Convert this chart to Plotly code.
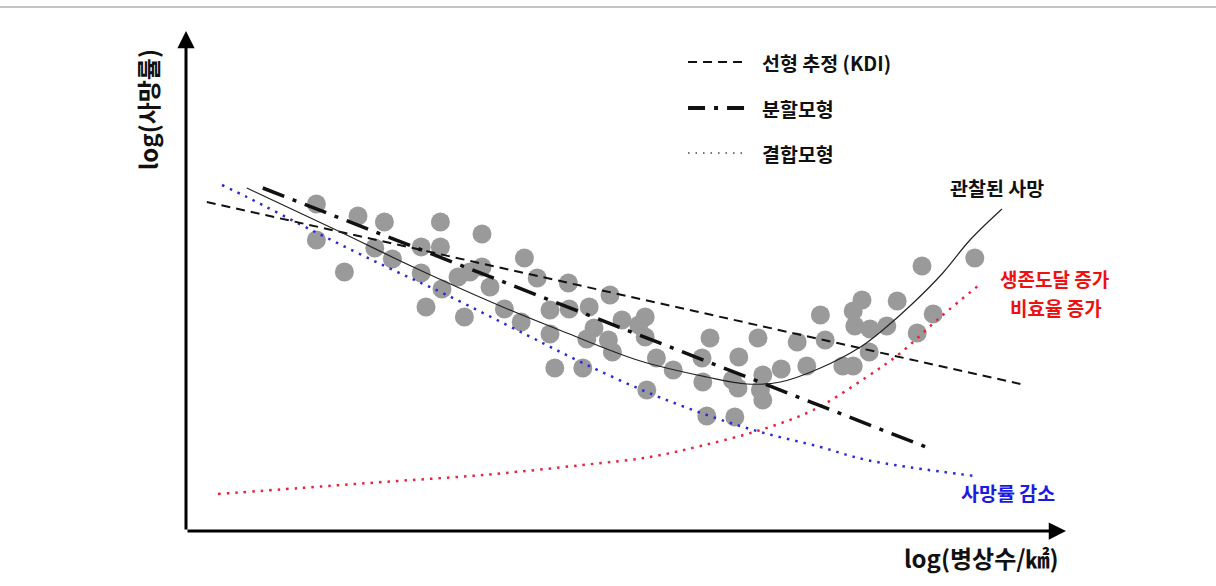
import plotly.graph_objects as go

# Observed regions: log(beds per km2) vs log(mortality), arbitrary units
obs_x = [1.63, 1.63, 1.98, 2.15, 2.48, 2.36, 2.58, 2.94, 2.94, 3.18, 3.18, 3.20, 3.00,
         3.40, 3.55, 3.48, 3.70, 3.70, 3.80, 3.98, 4.19, 4.23, 4.39, 4.55, 4.55, 4.61,
         4.78, 4.79, 4.96, 5.04, 5.10, 5.01, 5.28, 5.33, 5.30, 5.45, 5.74, 5.74, 5.76,
         5.88, 6.09, 6.45, 6.46, 6.51, 6.55, 6.86, 6.83, 6.90, 6.91, 7.15, 7.21, 7.18,
         7.21, 7.44, 7.64, 7.76, 7.93, 7.99, 8.21, 8.34, 8.34, 8.36, 8.45, 8.54, 8.55,
         8.76, 8.89, 9.14, 9.20, 9.34, 9.86, 5.66]
obs_y = [6.54, 5.82, 5.18, 6.30, 6.18, 5.66, 5.44, 5.16, 5.68, 6.18, 5.68, 4.84, 4.48,
         5.08, 5.18, 4.28, 5.94, 5.28, 4.88, 4.44, 4.18, 5.46, 5.06, 4.42, 3.94, 3.26,
         4.96, 4.44, 3.26, 4.48, 4.06, 3.84, 3.82, 3.58, 4.72, 4.22, 4.28, 3.88, 2.82,
         3.46, 3.22, 3.46, 2.98, 2.30, 3.86, 2.28, 3.02, 2.86, 3.48, 3.86, 3.12, 2.82,
         2.62, 3.24, 3.78, 3.30, 4.32, 3.82, 3.30, 3.30, 4.40, 4.10, 4.62, 3.58, 4.04,
         4.10, 4.60, 3.96, 5.30, 4.34, 5.46, 4.12]

# Linear estimate (KDI)
lin_x = [0.26, 10.43]
lin_y = [6.58, 2.94]

# Segmented model
seg_x = [0.96, 9.25]
seg_y = [6.86, 1.68]

# Combined model, component 1: falling mortality
dec_x = [0.45, 0.76, 1.64, 2.51, 3.26, 4.26, 4.96, 5.76, 6.51, 7.18, 7.93, 8.51, 9.86]
dec_y = [6.92, 6.68, 5.96, 5.28, 4.72, 3.92, 3.36, 2.78, 2.32, 1.98, 1.68, 1.42, 1.10]

# Combined model, component 2: rising access time / inefficiency
inc_x = [0.40, 1.43, 2.46, 3.71, 4.96, 5.80, 6.43, 7.18, 7.84, 8.49, 8.93, 9.43, 9.93]
inc_y = [0.74, 0.86, 0.98, 1.12, 1.32, 1.48, 1.70, 2.02, 2.42, 3.06, 3.56, 4.28, 4.94]

# Observed mortality curve
cur_x = [0.76, 1.93, 2.84, 3.93, 4.76, 5.68, 6.51, 7.01, 7.43, 7.93, 8.43, 8.71, 9.09,
         9.46, 9.80, 10.20]
cur_y = [6.86, 5.98, 5.28, 4.50, 3.96, 3.40, 3.08, 2.94, 2.98, 3.26, 3.68, 4.02, 4.56,
         5.16, 5.82, 6.44]

legend_labels = ["선형 추정 (KDI)", "분할모형", "결합모형"]

FONT = "Noto Sans CJK KR"
DASH = "9px,6px"
DASHDOT = "23px,9px,4px,9px"
DOT = "2.5px,6px"

fig = go.Figure()

fig.add_trace(go.Scatter(x=obs_x, y=obs_y, mode="markers",
                         marker=dict(size=19, color="#9a9a9a", line=dict(width=0)),
                         showlegend=False, hoverinfo="skip"))
fig.add_trace(go.Scatter(x=dec_x, y=dec_y, mode="lines", line_shape="spline",
                         line=dict(color="#2b2bd6", width=2.5, dash=DOT),
                         showlegend=False, hoverinfo="skip"))
fig.add_trace(go.Scatter(x=inc_x, y=inc_y, mode="lines", line_shape="spline",
                         line=dict(color="#e8243c", width=2.5, dash=DOT),
                         showlegend=False, hoverinfo="skip"))
fig.add_trace(go.Scatter(x=lin_x, y=lin_y, mode="lines",
                         line=dict(color="#111111", width=2, dash=DASH),
                         showlegend=False, hoverinfo="skip"))
fig.add_trace(go.Scatter(x=seg_x, y=seg_y, mode="lines",
                         line=dict(color="#111111", width=3.5, dash=DASHDOT),
                         showlegend=False, hoverinfo="skip"))
fig.add_trace(go.Scatter(x=cur_x, y=cur_y, mode="lines", line_shape="spline",
                         line=dict(color="#222222", width=1.2),
                         showlegend=False, hoverinfo="skip"))

# Axes with arrow heads
for tip in [(11.0, 0.0), (0.0, 10.0)]:
    fig.add_annotation(x=tip[0], y=tip[1], ax=0, ay=0, xref="x", yref="y",
                       axref="x", ayref="y", text="", showarrow=True,
                       arrowhead=2, arrowwidth=3, arrowsize=1.15, arrowcolor="#000000")

# Hand-drawn legend
leg_rows = [0.938, 0.846, 0.756]
leg_styles = [dict(color="#111111", width=2, dash="9px,6px"),
              dict(color="#111111", width=4, dash="17px,9px,4px,9px"),
              dict(color="#444444", width=1.5, dash="1.5px,6px")]
for yy, st, lab in zip(leg_rows, leg_styles, legend_labels):
    fig.add_shape(type="line", xref="paper", yref="paper", x0=0.5705, x1=0.635,
                  y0=yy, y1=yy, line=st)
    fig.add_annotation(xref="paper", yref="paper", x=0.652, y=yy, text=lab,
                       showarrow=False, xanchor="left", yanchor="middle",
                       font=dict(family=FONT, size=19.5, color="#111111", weight="bold"))

# Top frame line
fig.add_shape(type="line", xref="paper", yref="paper", x0=-0.22, x1=1.18,
              y0=1.048, y1=1.048, line=dict(color="#c4c4c4", width=2))

# Curve labels
labels = [
    (10.14, 6.88, "관찰된 사망", "#111111", 19.5),
    (10.86, 5.06, "생존도달 증가", "#ee1111", 19),
    (10.875, 4.48, "비효율 증가", "#ee1111", 19),
    (11.10, 2.88, "선형 추정", "#111111", 19.5),
    (10.28, 0.78, "사망률 감소", "#1a1ae0", 19.5),
]
for lx, ly, txt, col, fs in labels:
    fig.add_annotation(x=lx, y=ly, text=txt, showarrow=False,
                       xanchor="center", yanchor="middle", align="center",
                       font=dict(family=FONT, size=fs, color=col, weight="bold"))

# Axis titles
fig.add_annotation(xref="paper", yref="paper", x=-0.044, y=0.842, text="log(사망률)",
                   textangle=-90, showarrow=False, xanchor="center", yanchor="middle",
                   font=dict(family=FONT, size=24, color="#111111", weight="bold"))
fig.add_annotation(xref="paper", yref="paper", x=0.9045, y=-0.052, text="log(병상수/㎢)",
                   showarrow=False, xanchor="center", yanchor="middle",
                   font=dict(family=FONT, size=24, color="#111111", weight="bold"))

fig.update_xaxes(range=[0, 11], showgrid=False, zeroline=False, showline=False,
                 showticklabels=False, ticks="", fixedrange=True)
fig.update_yaxes(range=[0, 10], showgrid=False, zeroline=False, showline=False,
                 showticklabels=False, ticks="", fixedrange=True)
fig.update_layout(width=1216, height=586, margin=dict(l=186, r=150, t=31, b=55),
                  plot_bgcolor="white", paper_bgcolor="white",
                  font=dict(family=FONT), showlegend=False)

fig.write_html("out.html", config={"displayModeBar": False})
